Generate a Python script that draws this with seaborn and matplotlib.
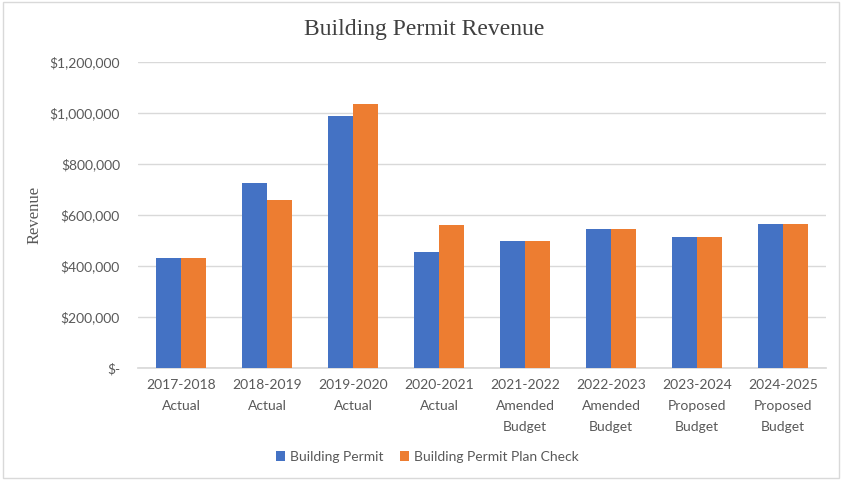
import matplotlib
matplotlib.use("Agg")
import matplotlib.pyplot as plt
import seaborn as sns
import pandas as pd
from matplotlib.ticker import FuncFormatter
from matplotlib.patches import Rectangle

categories = ["2017-2018\nActual", "2018-2019\nActual", "2019-2020\nActual", "2020-2021\nActual",
              "2021-2022\nAmended\nBudget", "2022-2023\nAmended\nBudget",
              "2023-2024\nProposed\nBudget", "2024-2025\nProposed\nBudget"]
series_names = ["Building Permit", "Building Permit Plan Check"]
permit = [431000, 727000, 989000, 455000, 499000, 547000, 513000, 564000]
plan_check = [431000, 657000, 1037000, 562000, 499000, 547000, 513000, 564000]
colors = ["#4472C4", "#ED7D31"]

df = pd.DataFrame({
    "Category": categories * 2,
    "Series": [series_names[0]] * len(categories) + [series_names[1]] * len(categories),
    "Value": permit + plan_check,
})

sns.set_theme(style="white")
plt.rcParams["font.family"] = ["Lato", "DejaVu Sans"]

fig = plt.figure(figsize=(8.42, 4.8), dpi=100)
W, H = 842, 480
ax = fig.add_axes([138 / W, 1 - 368 / H, 688 / W, 306 / H])

sns.barplot(data=df, x="Category", y="Value", hue="Series", order=categories,
            hue_order=series_names, palette=colors, width=0.57, saturation=1,
            errorbar=None, ax=ax, zorder=3, linewidth=0)

ax.set_ylim(0, 1200000)
ax.set_xlim(-0.5, len(categories) - 0.5)
ax.set_yticks(range(0, 1200001, 200000))
ax.yaxis.set_major_formatter(FuncFormatter(lambda v, p: "$-" if v == 0 else f"${v:,.0f}"))
ax.grid(axis="y", color="#D9D9D9", linewidth=1, zorder=0)
ax.set_axisbelow(True)
for s in ["top", "right", "left"]:
    ax.spines[s].set_visible(False)
ax.spines["bottom"].set_color("#D9D9D9")
ax.tick_params(axis="both", length=0, labelsize=10, labelcolor="#595959")
ax.tick_params(axis="y", pad=13)
ax.tick_params(axis="x", pad=8)
for lbl in ax.get_xticklabels():
    lbl.set_linespacing(1.9)
ax.set_xlabel("")
ax.set_ylabel("Revenue", family=["Liberation Serif"], fontsize=12, color="#595959")
ax.yaxis.set_label_coords((43 - 138) / 688, 0.5)

fig.text(424 / W, 1 - 30 / H, "Building Permit Revenue", family=["Liberation Serif"],
         fontsize=17, color="#404040", ha="center", va="center")

handles, labels = ax.get_legend_handles_labels()
ax.legend(handles, labels, loc="center", bbox_to_anchor=(427 / W, 1 - 457 / H),
          bbox_transform=fig.transFigure, ncol=2, frameon=False, fontsize=10,
          handlelength=0.7, handleheight=0.7, handletextpad=0.3, columnspacing=1.2,
          labelcolor="#595959")

fig.patches.append(Rectangle((3 / W, 2 / H), 836 / W, 476 / H, transform=fig.transFigure,
                             fill=False, edgecolor="#D9D9D9", linewidth=1))

fig.savefig("out.png", dpi=100, facecolor="white")
